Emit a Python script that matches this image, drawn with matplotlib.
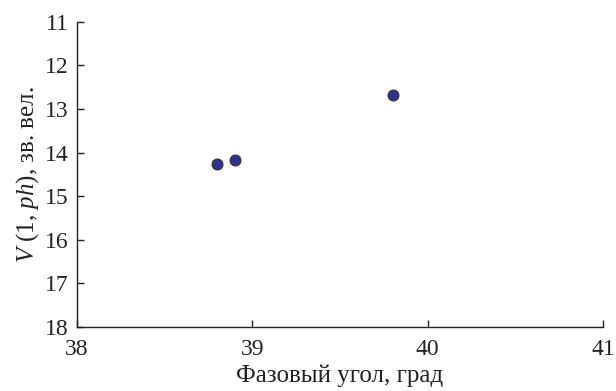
import matplotlib
matplotlib.use("Agg")
import matplotlib.pyplot as plt

# phase angle (deg) and reduced magnitude
phase_angle = [38.8, 38.9, 39.8]
magnitude = [14.27, 14.18, 12.67]

x_ticks = [38, 39, 40, 41]
y_ticks = [11, 12, 13, 14, 15, 16, 17, 18]

plt.rcParams["font.family"] = ["Liberation Serif", "DejaVu Serif"]
plt.rcParams["mathtext.fontset"] = "custom"
plt.rcParams["mathtext.it"] = "Liberation Serif:italic"
plt.rcParams["mathtext.rm"] = "Liberation Serif"

fig = plt.figure(figsize=(6.16, 3.91), dpi=100)
ax = fig.add_axes([0.125, 0.164, 0.854, 0.780])

ax.scatter(phase_angle, magnitude, s=60, color="#2e3192",
           edgecolors="#333333", linewidths=0.9, zorder=3, clip_on=False)

ax.set_xlim(38, 41)
ax.set_ylim(18, 11)
ax.set_xticks(x_ticks)
ax.set_yticks(y_ticks)

for s in ["top", "right"]:
    ax.spines[s].set_visible(False)
for s in ["left", "bottom"]:
    ax.spines[s].set_linewidth(1.0)
    ax.spines[s].set_color("#222222")

ax.tick_params(direction="in", length=5, width=1.0, colors="#222222",
               labelsize=17, labelcolor="#222222")
ax.tick_params(axis="y", pad=6)
ax.tick_params(axis="x", pad=9)

ax.set_xlabel("Фазовый угол, град", fontsize=18, color="#222222", labelpad=3)
ax.set_ylabel(r"$V$ (1, $ph$), зв. вел.", fontsize=18, color="#222222", labelpad=3)

fig.savefig("out.png", dpi=100)
